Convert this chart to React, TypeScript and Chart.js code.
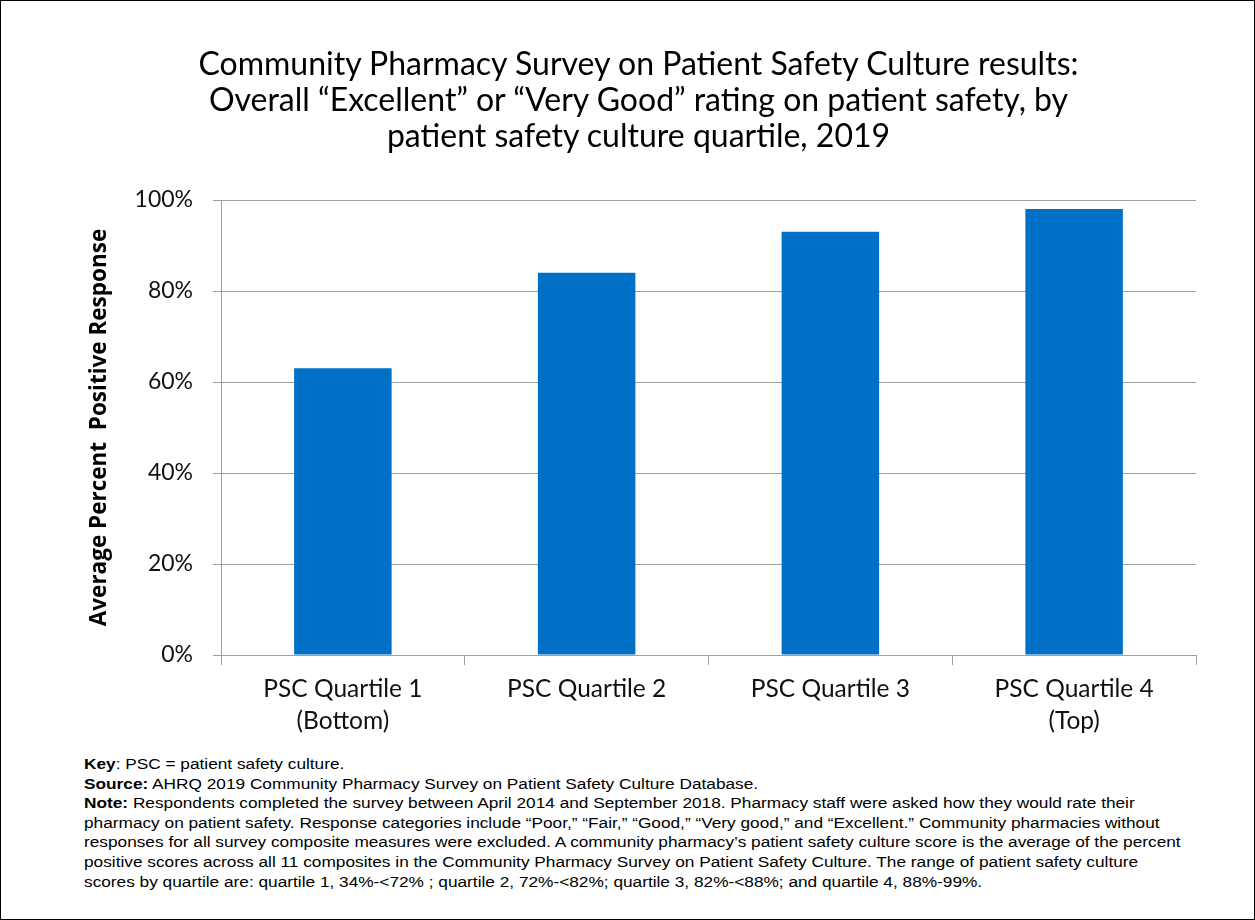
import React, { useEffect, useRef } from "react";
import { Chart, registerables } from "chart.js";

Chart.register(...registerables);

const categories: string[][] = [
  ["PSC Quartile 1", "(Bottom)"],
  ["PSC Quartile 2"],
  ["PSC Quartile 3"],
  ["PSC Quartile 4", "(Top)"],
];
const values: number[] = [63, 84, 93, 98];
const yTicks: number[] = [0, 20, 40, 60, 80, 100];

const titleLines = [
  "Community Pharmacy Survey on Patient Safety Culture results:",
  "Overall \u201cExcellent\u201d or \u201cVery Good\u201d rating on patient safety, by",
  "patient safety culture quartile, 2019",
];

const FONT = "Lato, 'Open Sans', sans-serif";
const NOTE_FONT = "'Liberation Sans', Arial, sans-serif";

export default function App() {
  const ref = useRef<HTMLCanvasElement | null>(null);

  useEffect(() => {
    document.body.style.margin = "0";
    const ctx = ref.current!;
    const chart = new Chart(ctx, {
      type: "bar",
      data: {
        labels: categories,
        datasets: [
          {
            data: values,
            backgroundColor: "#0070C6",
            borderWidth: 0,
            categoryPercentage: 0.4,
            barPercentage: 1,
          },
        ],
      },
      options: {
        animation: false,
        responsive: false,
        maintainAspectRatio: false,
        layout: { padding: { left: 84, right: 59, top: 200, bottom: 0 } },
        plugins: {
          legend: { display: false },
          tooltip: { enabled: false },
          title: { display: false },
        },
        scales: {
          x: {
            grid: {
              display: true,
              drawOnChartArea: false,
              drawTicks: true,
              tickLength: 10,
              color: "#A0A0A0",
              offset: true,
            },
            border: { color: "#A0A0A0", width: 1 },
            ticks: {
              color: "#111",
              font: { family: FONT, size: 24.5, lineHeight: 1.32 },
              padding: 8,
              maxRotation: 0,
              autoSkip: false,
            },
            afterFit: (s: any) => {
              s.height = 95;
            },
          },
          y: {
            min: 0,
            max: 100,
            afterBuildTicks: (s: any) => {
              s.ticks = yTicks.map((v) => ({ value: v }));
            },
            grid: {
              color: "#A0A0A0",
              tickLength: 8,
              drawTicks: true,
            },
            border: { color: "#A0A0A0", width: 1 },
            ticks: {
              color: "#111",
              font: { family: FONT, size: 23 },
              padding: 20,
              callback: (v: any) => v + "%",
            },
            title: {
              display: true,
              text: "Average Percent  Positive Response",
              color: "#000",
              font: { family: "'Open Sans', Lato, sans-serif", size: 22.5, weight: "bold", lineHeight: 1.2 },
              padding: { top: 2, bottom: 0 },
            },
            afterFit: (s: any) => {
              s.width = 221 - 84;
            },
          },
        },
      },
    });
    return () => chart.destroy();
  }, []);

  return (
    <div
      style={{
        position: "relative",
        width: 1255,
        height: 920,
        boxSizing: "border-box",
        border: "1px solid #000",
        background: "#fff",
        overflow: "hidden",
      }}
    >
      <canvas
        ref={ref}
        width={1255}
        height={750}
        style={{ position: "absolute", left: -1, top: -1, width: 1255, height: 750 }}
      />
      <div
        style={{
          position: "absolute",
          left: 0,
          top: 44,
          width: 1275,
          textAlign: "center",
          fontFamily: FONT,
          fontSize: 32,
          lineHeight: "36px",
          color: "#000",
        }}
      >
        {titleLines.map((t, i) => (
          <div key={i}>{t}</div>
        ))}
      </div>
      <div
        style={{
          position: "absolute",
          left: 83,
          top: 753,
          fontFamily: NOTE_FONT,
          fontSize: 15.5,
          lineHeight: "19.6px",
          color: "#000",
          whiteSpace: "pre",
          transform: "scaleX(1.113)",
          transformOrigin: "0 0",
        }}
      >
        <div>
          <b>Key</b>: PSC = patient safety culture.
        </div>
        <div>
          <b>Source:</b> AHRQ 2019 Community Pharmacy Survey on Patient Safety Culture Database.
        </div>
        <div>
          <b>Note:</b> Respondents completed the survey between April 2014 and September 2018. Pharmacy staff were asked how they would rate their
        </div>
        <div>
          pharmacy on patient safety. Response categories include {"\u201cPoor,\u201d \u201cFair,\u201d \u201cGood,\u201d \u201cVery good,\u201d and \u201cExcellent.\u201d"} Community pharmacies without
        </div>
        <div>
          responses for all survey composite measures were excluded. A community pharmacy{"\u2019"}s patient safety culture score is the average of the percent
        </div>
        <div>
          positive scores across all 11 composites in the Community Pharmacy Survey on Patient Safety Culture. The range of patient safety culture
        </div>
        <div>
          scores by quartile are: quartile 1, 34%-{"<"}72% ; quartile 2, 72%-{"<"}82%; quartile 3, 82%-{"<"}88%; and quartile 4, 88%-99%.
        </div>
      </div>
    </div>
  );
}
